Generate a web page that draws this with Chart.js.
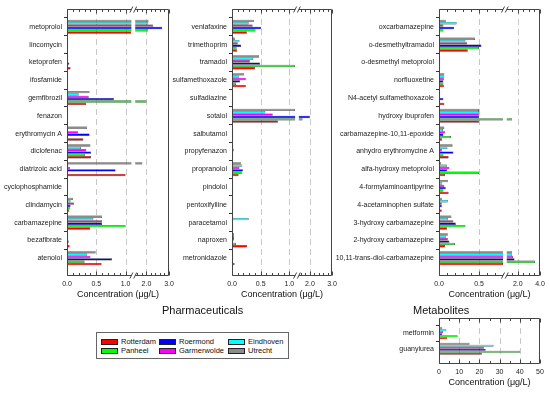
<!DOCTYPE html>
<html>
<head>
<meta charset="utf-8">
<script src="https://cdn.jsdelivr.net/npm/chart.js@4.4.1/dist/chart.umd.min.js"></script>
<style>
  body { margin: 0; background: #fff; width: 550px; height: 394px; position: relative; overflow: hidden;
         font-family: "Liberation Sans", Arial, sans-serif; color: #111; }
  canvas { position: absolute; }
  .group { position: absolute; font-size: 11px; line-height: 13px; white-space: nowrap; }
  #legend { position: absolute; left: 96px; top: 332px; width: 193px; height: 27px; border: 1px solid #666; box-sizing: border-box; }
  #legend .sw { position: absolute; width: 15px; height: 4px; border: 1px solid #222; }
  #legend .lt { position: absolute; font-size: 7.5px; line-height: 9px; white-space: nowrap; }
</style>
</head>
<body>
<canvas id="c1" width="178" height="300" style="left:0;top:0"></canvas>
<canvas id="c2" width="171" height="300" style="left:170px;top:0"></canvas>
<canvas id="c3" width="214" height="300" style="left:335px;top:0"></canvas>
<canvas id="c4" width="214" height="94" style="left:335px;top:300px"></canvas>
<div class="group" style="left:162px;top:304px">Pharmaceuticals</div>
<div class="group" style="left:413px;top:304px">Metabolites</div>
<div id="legend"></div>
<script>
// --- series order top-to-bottom inside each group ---
const cityNames = ['Utrecht', 'Eindhoven', 'Garmerwolde', 'Roermond', 'Panheel', 'Rotterdam'];
const cityColors = ['#8c8c8c', '#00ffff', '#ff00ff', '#0000ff', '#00ff00', '#ff0000'];
const legendOrder = ['Rotterdam', 'Panheel', 'Roermond', 'Garmerwolde', 'Eindhoven', 'Utrecht'];

// --- Pharmaceuticals (left panel) ---
const pharmA = ['metoprolol', 'lincomycin', 'ketoprofen', 'ifosfamide', 'gemfibrozil', 'fenazon', 'erythromycin A',
  'diclofenac', 'diatrizoic acid', 'cyclophosphamide', 'clindamycin', 'carbamazepine', 'bezafibrate', 'atenolol'];
const pharmAUtrecht     = [2.09, 0.01, 0.005, 0.005, 0.385, 0.005, 0.345, 0.40, 1.82, 0.005, 0.10, 0.60, 0.02, 0.49];
const pharmAEindhoven   = [2.08, 0.005, 0.005, 0.005, 0.20, 0.005, 0.02, 0.24, 0.005, 0.005, 0.06, 0.45, 0.005, 0.34];
const pharmAGarmerwolde = [2.30, 0.005, 0.01, 0.005, 0.37, 0.005, 0.19, 0.33, 0.05, 0.005, 0.12, 0.60, 0.005, 0.40];
const pharmARoermond    = [2.70, 0.005, 0.04, 0.005, 0.80, 0.005, 0.385, 0.41, 0.83, 0.005, 0.06, 0.60, 0.03, 0.77];
const pharmAPanheel     = [2.08, 0.005, 0.005, 0.005, 2.00, 0.005, 0.01, 0.31, 0.005, 0.005, 0.05, 1.00, 0.005, 0.30];
const pharmARotterdam   = [1.10, 0.01, 0.06, 0.005, 0.33, 0.005, 0.28, 0.41, 1.00, 0.005, 0.035, 0.40, 0.045, 0.59];

// --- Pharmaceuticals (middle panel) ---
const pharmB = ['venlafaxine', 'trimethoprim', 'tramadol', 'sulfamethoxazole', 'sulfadiazine', 'sotalol', 'salbutamol',
  'propyfenazon', 'propranolol', 'pindolol', 'pentoxifylline', 'paracetamol', 'naproxen', 'metronidazole'];
const pharmBUtrecht     = [0.38, 0.05, 0.47, 0.21, 0.01, 1.10, 0.005, 0.01, 0.155, 0.005, 0.005, 0.005, 0.035, 0.005];
const pharmBEindhoven   = [0.29, 0.13, 0.37, 0.12, 0.005, 0.58, 0.005, 0.005, 0.18, 0.005, 0.005, 0.29, 0.035, 0.01];
const pharmBGarmerwolde = [0.36, 0.10, 0.31, 0.24, 0.02, 0.71, 0.005, 0.03, 0.13, 0.005, 0.005, 0.005, 0.035, 0.005];
const pharmBRoermond    = [0.51, 0.16, 0.49, 0.14, 0.005, 2.00, 0.005, 0.005, 0.19, 0.005, 0.005, 0.005, 0.02, 0.005];
const pharmBPanheel     = [0.41, 0.08, 1.10, 0.07, 0.005, 1.67, 0.005, 0.005, 0.17, 0.005, 0.005, 0.005, 0.07, 0.005];
const pharmBRotterdam   = [0.26, 0.09, 0.40, 0.24, 0.005, 0.80, 0.01, 0.015, 0.115, 0.005, 0.005, 0.005, 0.26, 0.045];

// --- Metabolites (right panel) ---
const metabA = ['oxcarbamazepine', 'o-desmethyltramadol', 'o-desmethyl metoprolol', 'norfluoxetine',
  'N4-acetyl sulfamethoxazole', 'hydroxy ibuprofen', 'carbamazepine-10,11-epoxide', 'anhydro erythromycine A',
  'alfa-hydroxy metoprolol', '4-formylaminoantipyrine', '4-acetaminophen sulfate', '3-hydroxy carbamazepine',
  '2-hydroxy carbamazepine', '10,11-trans-diol-carbamazepine'];
const metabAUtrecht     = [0.084, 0.45, 0.005, 0.067, 0.005, 0.50, 0.067, 0.17, 0.025, 0.11, 0.035, 0.155, 0.11, 1.48];
const metabAEindhoven   = [0.22, 0.33, 0.005, 0.067, 0.005, 0.50, 0.05, 0.105, 0.10, 0.04, 0.11, 0.11, 0.084, 1.48];
const metabAGarmerwolde = [0.055, 0.35, 0.005, 0.06, 0.005, 0.50, 0.075, 0.035, 0.13, 0.067, 0.035, 0.18, 0.11, 1.57];
const metabARoermond    = [0.19, 0.53, 0.005, 0.055, 0.055, 0.50, 0.055, 0.18, 0.10, 0.084, 0.035, 0.21, 0.13, 1.70];
const metabAPanheel     = [0.055, 0.50, 0.005, 0.055, 0.005, 1.48, 0.15, 0.055, 0.50, 0.055, 0.005, 0.33, 0.20, 3.55];
const metabARotterdam   = [0.013, 0.36, 0.005, 0.06, 0.067, 0.50, 0.04, 0.12, 0.075, 0.12, 0.035, 0.10, 0.075, 0.80];

// --- Metabolites (small panel, 0-50 µg/L) ---
const metabB = ['metformin', 'guanylurea'];
const metabBUtrecht     = [1.6, 15.1];
const metabBEindhoven   = [3.6, 27.0];
const metabBGarmerwolde = [2.0, 22.2];
const metabBRoermond    = [1.5, 23.1];
const metabBPanheel     = [9.2, 40.2];
const metabBRotterdam   = [4.1, 21.2];

// broken axis: values up to lo as-is, then a small gap, then compressed range from hi
const brk = (lo, gap, hi, k) => v => v <= lo ? v : v < hi ? lo : lo + gap + (v - hi) * k;
const tfPharm = brk(1.1, 0.065, 1.5, 0.385);
const tfMetab = brk(0.8, 0.047, 1.0, 0.1385);
const tfLin = v => v;

const decor = {
  id: 'decor',
  beforeDatasetsDraw(chart, args, o) {
    const { ctx, chartArea: a, scales: { x } } = chart;
    ctx.save();
    ctx.strokeStyle = '#c8c8c8';
    ctx.lineWidth = 1;
    ctx.setLineDash([6, 4]);
    o.grids.forEach(v => {
      const p = Math.round(x.getPixelForValue(o.tf(v))) + 0.5;
      ctx.beginPath(); ctx.moveTo(p, a.top); ctx.lineTo(p, a.bottom); ctx.stroke();
    });
    ctx.restore();
  },
  afterDatasetsDraw(chart, args, o) {
    const { ctx, chartArea: a, scales: { x } } = chart;
    const px = v => Math.round(x.getPixelForValue(o.tf(v))) + 0.5;
    const L = Math.round(a.left) + 0.5, R = Math.round(a.right) - 0.5;
    const T = Math.round(a.top) + 0.5, B = Math.round(a.bottom) - 0.5;
    let g0, g1;
    ctx.save();
    if (o.gap) {
      g0 = x.getPixelForValue(o.gap[0]);
      g1 = x.getPixelForValue(o.gap[1]);
      ctx.fillStyle = '#fff';
      ctx.fillRect(g0, a.top, g1 - g0, a.bottom - a.top);
    }
    ctx.strokeStyle = '#444';
    ctx.lineWidth = 1;
    ctx.beginPath();
    ctx.moveTo(L, T); ctx.lineTo(L, B);
    ctx.moveTo(R, T); ctx.lineTo(R, B);
    [T, B].forEach(y => {
      if (o.gap) {
        ctx.moveTo(L, y); ctx.lineTo(g0, y);
        ctx.moveTo(g1, y); ctx.lineTo(R, y);
      } else {
        ctx.moveTo(L, y); ctx.lineTo(R, y);
      }
    });
    o.majors.forEach(v => {
      const p = px(v);
      ctx.moveTo(p, T); ctx.lineTo(p, T + 4);
      ctx.moveTo(p, B); ctx.lineTo(p, B - 4);
    });
    o.minors.forEach(v => {
      const p = px(v);
      ctx.moveTo(p, T); ctx.lineTo(p, T + 2.5);
      ctx.moveTo(p, B); ctx.lineTo(p, B - 2.5);
    });
    ctx.stroke();
    if (o.gap) {
      ctx.beginPath();
      [g0, g1].forEach(p => [T, B].forEach(y => {
        ctx.moveTo(p - 1.5, y + 3); ctx.lineTo(p + 1.5, y - 3);
      }));
      ctx.stroke();
    }
    ctx.restore();
  }
};

function makeChart(id, names, series, cfg) {
  const n = names.length;
  new Chart(document.getElementById(id), {
    type: 'bar',
    data: {
      labels: ['', ...names, ''],
      datasets: series.map((s, i) => ({
        label: cityNames[i],
        data: [null, ...s.map(cfg.tf), null],
        backgroundColor: cityColors[i],
        borderColor: '#1a1a1a',
        borderWidth: 0.5,
        borderSkipped: false,
        minBarLength: 1.2,
        categoryPercentage: cfg.catPct,
        barPercentage: 1
      }))
    },
    options: {
      indexAxis: 'y',
      responsive: false,
      animation: false,
      layout: { padding: { top: cfg.padTop, right: 9, left: 0, bottom: 0 } },
      scales: {
        x: {
          type: 'linear', min: 0, max: cfg.tf(cfg.max),
          afterBuildTicks: s => { s.ticks = cfg.majors.map(v => ({ value: cfg.tf(v) })); },
          afterFit: s => { s.height = cfg.xHeight; },
          ticks: { autoSkip: false, maxRotation: 0, padding: 4, color: '#222',
                   font: { family: 'Liberation Sans', size: 7 },
                   callback: (val, i) => cfg.tickLabels[i] },
          grid: { display: false, drawTicks: false },
          border: { display: false },
          title: { display: true, text: 'Concentration (μg/L)', color: '#111',
                   font: { family: 'Liberation Sans', size: 9 }, padding: { top: 0, bottom: cfg.titlePad } }
        },
        y: {
          type: 'category', offset: false,
          afterFit: s => { s.width = cfg.yWidth; },
          ticks: { autoSkip: false, padding: 2, color: '#222', font: { family: 'Liberation Sans', size: 7 } },
          grid: { drawOnChartArea: false, tickLength: 3, lineWidth: 1,
                  color: c => (c.index === 0 || c.index === n + 1) ? 'transparent' : '#333' },
          border: { display: false }
        }
      },
      plugins: {
        legend: { display: false },
        tooltip: { enabled: false },
        decor: { tf: cfg.tf, gap: cfg.gap, majors: cfg.majors, minors: cfg.minors, grids: cfg.grids }
      }
    },
    plugins: [decor]
  });
}

const pharmMinors = [0.1, 0.2, 0.3, 0.4, 0.6, 0.7, 0.8, 0.9, 1.6, 1.8, 2.2, 2.4, 2.6, 2.8];
const pharmCfg = {
  tf: tfPharm, max: 3.0, gap: [1.1, 1.165], majors: [0, 0.5, 1.0, 2.0, 3.0],
  tickLabels: ['0.0', '0.5', '1.0', '2.0', '3.0'], minors: pharmMinors, grids: [0.5, 1.0, 2.0],
  padTop: 9, xHeight: 24, titlePad: 0.5, catPct: 0.79
};

makeChart('c1', pharmA,
  [pharmAUtrecht, pharmAEindhoven, pharmAGarmerwolde, pharmARoermond, pharmAPanheel, pharmARotterdam],
  Object.assign({}, pharmCfg, { yWidth: 67 }));

makeChart('c2', pharmB,
  [pharmBUtrecht, pharmBEindhoven, pharmBGarmerwolde, pharmBRoermond, pharmBPanheel, pharmBRotterdam],
  Object.assign({}, pharmCfg, { yWidth: 62 }));

makeChart('c3', metabA,
  [metabAUtrecht, metabAEindhoven, metabAGarmerwolde, metabARoermond, metabAPanheel, metabARotterdam],
  { tf: tfMetab, max: 4.0, gap: [0.8, 0.847], majors: [0, 0.5, 2.0, 4.0], tickLabels: ['0.0', '0.5', '2.0', '4.0'],
    minors: [0.1, 0.2, 0.3, 0.4, 0.6, 0.7, 1.5, 2.5, 3.0, 3.5], grids: [0.5, 2.0],
    padTop: 9, xHeight: 24, titlePad: 0.5, catPct: 0.79, yWidth: 104 });

makeChart('c4', metabB,
  [metabBUtrecht, metabBEindhoven, metabBGarmerwolde, metabBRoermond, metabBPanheel, metabBRotterdam],
  { tf: tfLin, max: 50, gap: null, majors: [0, 10, 20, 30, 40, 50], tickLabels: ['0', '10', '20', '30', '40', '50'],
    minors: [5, 15, 25, 35, 45], grids: [10, 20, 30, 40],
    padTop: 18, xHeight: 30, titlePad: 6, catPct: 0.78, yWidth: 104 });

// legend box (three columns, two rows)
const legend = document.getElementById('legend');
const colX = [4, 62, 131];
const rowY = [9, 17.5];
legendOrder.forEach((name, i) => {
  const col = Math.floor(i / 2), row = i % 2;
  const sw = document.createElement('div');
  sw.className = 'sw';
  sw.style.left = colX[col] + 'px';
  sw.style.top = (rowY[row] - 3) + 'px';
  sw.style.background = cityColors[cityNames.indexOf(name)];
  legend.appendChild(sw);
  const t = document.createElement('div');
  t.className = 'lt';
  t.textContent = name;
  t.style.left = (colX[col] + 20) + 'px';
  t.style.top = (rowY[row] - 5) + 'px';
  legend.appendChild(t);
});
</script>
</body>
</html>
